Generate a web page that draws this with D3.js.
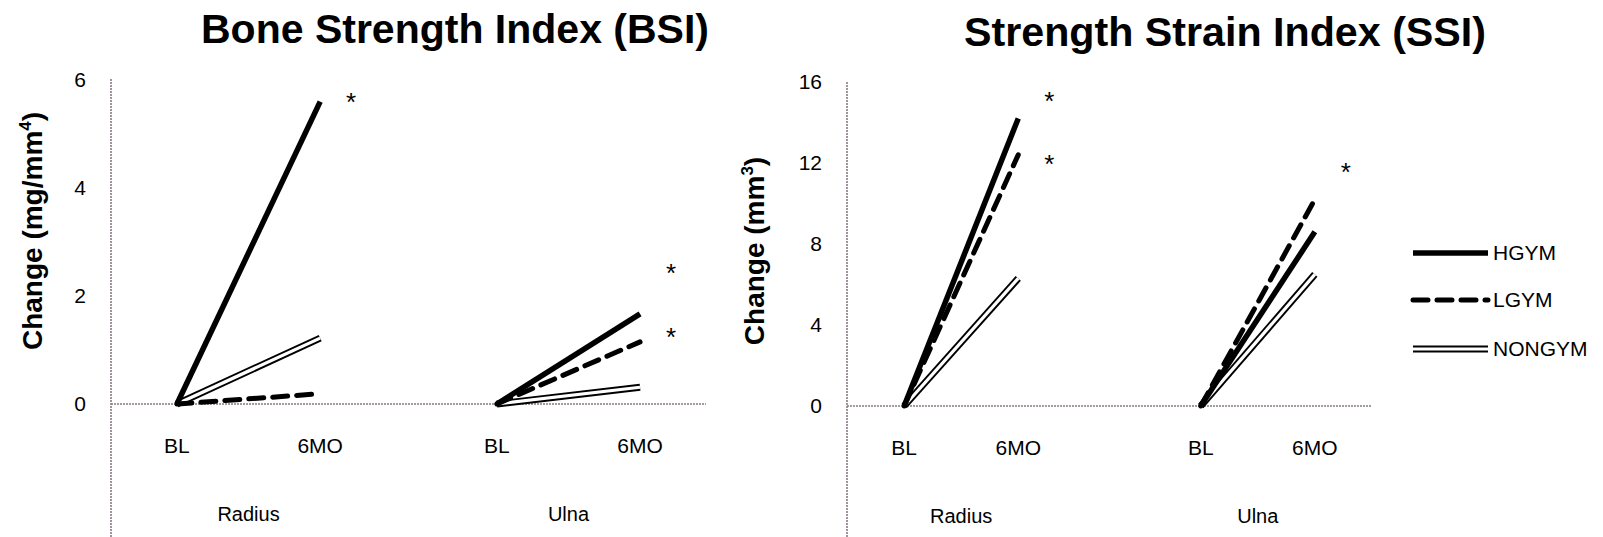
<!DOCTYPE html>
<html>
<head>
<meta charset="utf-8">
<script src="https://cdn.jsdelivr.net/npm/d3@7"></script>
<style>
  body { margin: 0; background: #fff; }
  svg { display: block; font-family: "Liberation Sans", Arial, sans-serif; }
</style>
</head>
<body>
<div id="chart"></div>
<script>
var width = 1603,
    height = 537;

// data (change from baseline, BL = 0)
var groups = ["HGYM", "LGYM", "NONGYM"];
var sites = ["Radius", "Ulna"];
var timepoints = ["BL", "6MO"];

var bsiRadius = [5.6, 0.19, 1.22];
var bsiUlna = [1.67, 1.15, 0.31];
var ssiRadius = [14.2, 12.4, 6.3];
var ssiUlna = [8.6, 10.2, 6.5];

var bsiTicks = [0, 2, 4, 6];
var ssiTicks = [0, 4, 8, 12, 16];

// significance markers: site + height on the value axis
var bsiStars = [{site: "Radius", value: 5.69}, {site: "Ulna", value: 2.52}, {site: "Ulna", value: 1.33}];
var ssiStars = [{site: "Radius", value: 15.3}, {site: "Radius", value: 12.2}, {site: "Ulna", value: 11.8}];

var svg = d3.select("#chart").append("svg")
    .attr("width", width)
    .attr("height", height);

var panels = [
  {
    title: "Bone Strength Index (BSI)", titleX: 455, titleY: 43, titleLen: 508,
    yLabel: "Change (mg/mm", sup: "4", yLabelX: 32, yLabelY: 231,
    ticks: bsiTicks, domain: [0, 6], yRange: [404, 80], axisTop: 79,
    xRange: [111, 706], padIn: 0.4, padOut: 0.13, innerPad: 0.17,
    values: {Radius: bsiRadius, Ulna: bsiUlna}, stars: bsiStars
  },
  {
    title: "Strength Strain Index (SSI)", titleX: 1225, titleY: 46, titleLen: 522,
    yLabel: "Change (mm", sup: "3", yLabelX: 754, yLabelY: 251,
    ticks: ssiTicks, domain: [0, 16], yRange: [406, 82], axisTop: 82,
    xRange: [847, 1372], padIn: 0.5, padOut: 0.135, innerPad: 0.15,
    values: {Radius: ssiRadius, Ulna: ssiUlna}, stars: ssiStars
  }
];

var lineStyle = {
  HGYM:   {width: 5.5, dash: null},
  LGYM:   {width: 5, dash: "15,9"},
  NONGYM: {width: 7, dash: null, hollow: true}
};

function drawSeries(g, pts, name) {
  var st = lineStyle[name];
  var line = d3.line().x(function(d){ return d[0]; }).y(function(d){ return d[1]; });
  g.append("path")
    .attr("d", line(pts))
    .attr("fill", "none")
    .attr("stroke", "#000")
    .attr("stroke-width", st.width)
    .attr("stroke-dasharray", st.dash)
    .attr("stroke-linecap", st.dash ? "round" : "butt");
  if (st.hollow) {
    g.append("path")
      .attr("d", line(pts))
      .attr("fill", "none")
      .attr("stroke", "#fff")
      .attr("stroke-width", 3.2);
  }
}

panels.forEach(function(p) {
  var g = svg.append("g");

  var y = d3.scaleLinear().domain(p.domain).range(p.yRange);
  var xSite = d3.scaleBand().domain(sites).range(p.xRange)
      .paddingInner(p.padIn).paddingOuter(p.padOut);
  var xTime = d3.scalePoint().domain(timepoints).range([0, xSite.bandwidth()])
      .padding(p.innerPad);
  var xPos = function(site, tp) { return xSite(site) + xTime(tp); };

  // title
  g.append("text")
    .attr("x", p.titleX)
    .attr("y", p.titleY)
    .attr("text-anchor", "middle")
    .attr("textLength", p.titleLen)
    .attr("lengthAdjust", "spacingAndGlyphs")
    .style("font-size", "40px")
    .style("font-weight", "bold")
    .text(p.title);

  // value axis: dotted line running to the bottom edge
  g.append("line")
    .attr("x1", p.xRange[0]).attr("x2", p.xRange[0])
    .attr("y1", p.axisTop).attr("y2", height)
    .attr("stroke", "#857a85")
    .attr("stroke-width", 1.6)
    .attr("stroke-dasharray", "2,1");

  var yAxis = g.append("g")
    .attr("transform", "translate(" + p.xRange[0] + ",0)")
    .call(d3.axisLeft(y).tickValues(p.ticks).tickFormat(d3.format("d"))
      .tickSize(0).tickPadding(25));
  yAxis.select(".domain").remove();
  yAxis.selectAll("text")
    .style("font-size", "21px")
    .style("font-family", "'Liberation Sans', Arial, sans-serif")
    .attr("fill", "#000");

  // zero line
  g.append("line")
    .attr("x1", p.xRange[0]).attr("x2", p.xRange[1])
    .attr("y1", y(0)).attr("y2", y(0))
    .attr("stroke", "#857a85")
    .attr("stroke-width", 1.6)
    .attr("stroke-dasharray", "2,1");

  // y label
  var yl = g.append("text")
    .attr("transform", "translate(" + p.yLabelX + "," + p.yLabelY + ") rotate(-90)")
    .attr("text-anchor", "middle")
    .attr("dy", "0.35em")
    .style("font-size", "28px")
    .style("font-weight", "bold");
  yl.append("tspan").text(p.yLabel);
  yl.append("tspan").attr("dy", -11).style("font-size", "17px").text(p.sup);
  yl.append("tspan").attr("dy", 11).text(")");

  // BL / 6MO labels and site labels
  sites.forEach(function(s) {
    timepoints.forEach(function(tp) {
      g.append("text")
        .attr("x", xPos(s, tp))
        .attr("y", y(0) + 42)
        .attr("dy", "0.35em")
        .attr("text-anchor", "middle")
        .style("font-size", "21px")
        .text(tp);
    });
    g.append("text")
      .attr("x", xSite(s) + xSite.bandwidth() / 2)
      .attr("y", y(0) + 110)
      .attr("dy", "0.35em")
      .attr("text-anchor", "middle")
      .style("font-size", "20px")
      .text(s);
  });

  // series lines, NONGYM at the back
  var order = ["NONGYM", "LGYM", "HGYM"];
  order.forEach(function(name) {
    var gi = groups.indexOf(name);
    sites.forEach(function(s) {
      var pts = [[xPos(s, "BL"), y(0)], [xPos(s, "6MO"), y(p.values[s][gi])]];
      drawSeries(g, pts, name);
    });
  });

  // asterisks
  g.selectAll(".star")
    .data(p.stars)
    .enter()
    .append("text")
    .attr("x", function(d){ return xPos(d.site, "6MO") + 31; })
    .attr("y", function(d){ return y(d.value) + 14; })
    .attr("text-anchor", "middle")
    .style("font-size", "26px")
    .text("*");
});

// legend
var legend = svg.append("g").attr("transform", "translate(1413,0)");
var legendY = [253, 300, 349];
groups.forEach(function(name, i) {
  drawSeries(legend, [[0, legendY[i]], [75, legendY[i]]], name);
  legend.append("text")
    .attr("x", 80)
    .attr("y", legendY[i])
    .attr("dy", "0.35em")
    .style("font-size", "21px")
    .text(name);
});
</script>
</body>
</html>
